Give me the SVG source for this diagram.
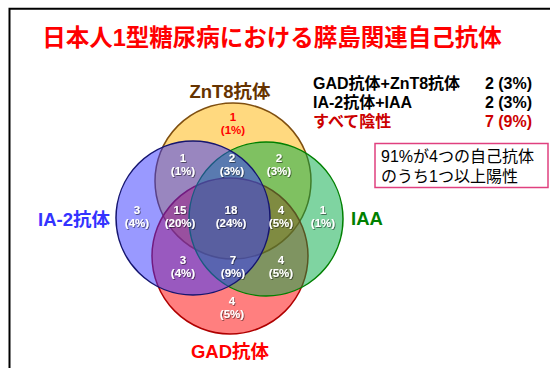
<svg xmlns="http://www.w3.org/2000/svg" width="550" height="368" viewBox="0 0 550 368">
<defs>
<style>
.jp{font-family:"Liberation Sans","Noto Sans CJK JP",sans-serif;}
.title{font-size:23.5px;font-weight:bold;fill:#FF0000;text-anchor:middle;}
.lbl{font-size:18.5px;font-weight:bold;text-anchor:middle;}
.list{font-size:16px;font-weight:bold;fill:#000;}
.num{font-size:11.5px;font-weight:bold;fill:#FFFFFF;text-anchor:middle;filter:url(#sh);}
.box{font-size:16px;fill:#000;}
.c{fill-opacity:0.5;stroke-width:1.5;}
</style>
<filter id="sh" x="-30%" y="-30%" width="160%" height="160%">
<feDropShadow dx="0.8" dy="0.8" stdDeviation="0.5" flood-color="#000" flood-opacity="0.6"/>
</filter>
</defs>
<rect width="550" height="368" fill="#FFFFFF"/>
<path d="M9.5,368 V8.7 H550" fill="none" stroke="#000" stroke-width="2"/>
<text class="jp title" x="272" y="46">日本人1型糖尿病における膵島関連自己抗体</text>

<g id="venn">
<g id="znt8"><circle class="c" cx="233" cy="181" r="78" fill="#FFB400" stroke="#7F4F10"/></g>
<g id="gad"><circle class="c" cx="230" cy="256" r="78" fill="#FF0000" stroke="#B00000"/></g>
<g id="iaa"><circle class="c" cx="266" cy="219" r="77" fill="#00AA44" stroke="#008000"/></g>
<g id="ia2"><circle class="c" cx="193" cy="218" r="77" fill="#3333FF" stroke="#15156F"/></g>
</g>
<g id="connectors"></g>

<g id="labels" class="jp">
<text class="lbl" x="230" y="98" fill="#663300">ZnT8抗体</text>
<text class="lbl" x="74" y="226" fill="#3333FF">IA-2抗体</text>
<text class="lbl" x="367" y="225" fill="#008000">IAA</text>
<text class="lbl" x="230" y="358" fill="#FF0000">GAD抗体</text>
</g>

<g id="counts" class="jp">
<text class="num" x="233" y="120.5" style="fill:#FF0000;filter:none">1</text>
<text class="num" x="233" y="133.5" style="fill:#FF0000;filter:none">(1%)</text>
<text class="num" x="183" y="161.5">1</text><text class="num" x="183" y="174.5">(1%)</text>
<text class="num" x="232" y="161.5">2</text><text class="num" x="232" y="174.5">(3%)</text>
<text class="num" x="279" y="161.5">2</text><text class="num" x="279" y="174.5">(3%)</text>
<text class="num" x="137" y="213.5">3</text><text class="num" x="137" y="226.5">(4%)</text>
<text class="num" x="180" y="213.5">15</text><text class="num" x="180" y="226.5">(20%)</text>
<text class="num" x="231" y="213.5">18</text><text class="num" x="231" y="226.5">(24%)</text>
<text class="num" x="281" y="213.5">4</text><text class="num" x="281" y="226.5">(5%)</text>
<text class="num" x="323" y="213.5">1</text><text class="num" x="323" y="226.5">(1%)</text>
<text class="num" x="183" y="263.5">3</text><text class="num" x="183" y="276.5">(4%)</text>
<text class="num" x="233" y="263.5">7</text><text class="num" x="233" y="276.5">(9%)</text>
<text class="num" x="281" y="263.5">4</text><text class="num" x="281" y="276.5">(5%)</text>
<text class="num" x="232" y="304.5">4</text><text class="num" x="232" y="317.5">(5%)</text>
</g>

<g id="list" class="jp">
<text class="list" x="313" y="89">GAD抗体+ZnT8抗体</text>
<text class="list" x="532" y="89" text-anchor="end">2 (3%)</text>
<text class="list" x="313" y="108">IA-2抗体+IAA</text>
<text class="list" x="532" y="108" text-anchor="end">2 (3%)</text>
<text class="list" x="313" y="127" style="fill:#CC0000">すべて陰性</text>
<text class="list" x="532" y="127" text-anchor="end" style="fill:#CC0000">7 (9%)</text>
</g>

<g id="note" class="jp">
<rect x="375" y="143.5" width="173" height="44" fill="#FFFFFF" stroke="#E0407F" stroke-width="1.5"/>
<text class="box" x="381" y="162">91%が4つの自己抗体</text>
<text class="box" x="381" y="182">のうち1つ以上陽性</text>
</g>
</svg>
